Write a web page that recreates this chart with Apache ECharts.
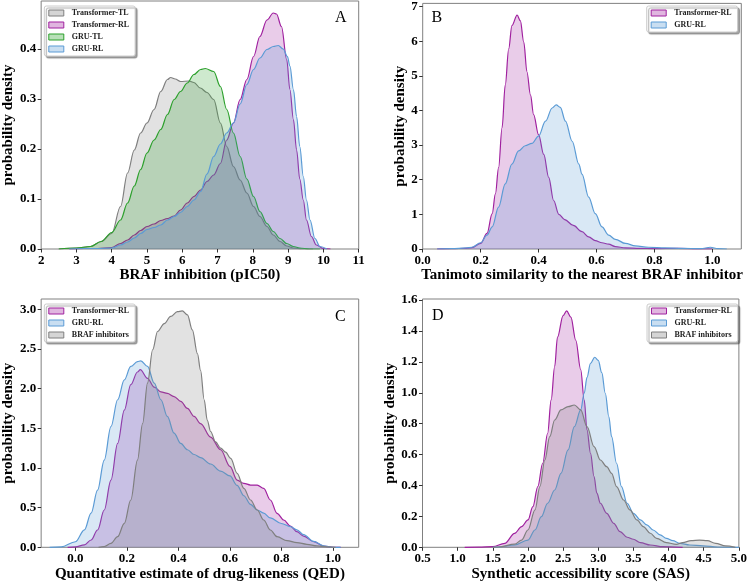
<!DOCTYPE html>
<html>
<head>
<meta charset="utf-8">
<script src="https://cdn.jsdelivr.net/npm/echarts@6/dist/echarts.min.js"></script>
<style>
html,body{margin:0;padding:0;background:#fff;}
#chart{width:750px;height:583px;}
</style>
</head>
<body>
<div id="chart"></div>
<script>
// ---------- DATA ----------
// Panel A: BRAF inhibition (pIC50)
const A_xTicks = [2,3,4,5,6,7,8,9,10,11];
const A_yTicks = [0,0.1,0.2,0.3,0.4];
const A_TransformerTL_x = [2.5,3.0,3.4,3.7,4.0,4.25,4.45,4.64,4.82,5.0,5.2,5.39,5.58,5.67,5.8,5.95,6.19,6.33,6.51,6.7,6.89,7.08,7.26,7.45,7.64,7.83,8.02,8.2,8.4,8.58,8.77,8.96,9.15,9.4,9.7];
const A_TransformerTL_y = [0,0.002,0.005,0.015,0.031,0.085,0.152,0.198,0.232,0.252,0.279,0.315,0.339,0.343,0.340,0.335,0.336,0.333,0.322,0.313,0.299,0.252,0.205,0.165,0.138,0.112,0.085,0.065,0.045,0.028,0.015,0.006,0.002,0,0];
const A_TransformerRL_x = [2.8,3.2,3.6,4.0,4.25,4.45,4.64,4.82,5.0,5.2,5.39,5.58,5.77,5.95,6.14,6.33,6.52,6.7,6.89,7.08,7.26,7.45,7.64,7.83,8.02,8.2,8.4,8.58,8.67,8.81,8.96,9.05,9.15,9.24,9.33,9.43,9.52,9.66,9.8,10.0,10.2];
const A_TransformerRL_y = [0,0.001,0.001,0.003,0.011,0.018,0.028,0.037,0.045,0.050,0.057,0.061,0.066,0.078,0.092,0.105,0.118,0.135,0.148,0.171,0.218,0.252,0.299,0.339,0.385,0.425,0.458,0.472,0.470,0.445,0.379,0.319,0.259,0.198,0.140,0.098,0.058,0.025,0.008,0.001,0];
const A_GRUTL_x = [2.5,3.0,3.4,3.7,4.0,4.25,4.45,4.64,4.82,5.0,5.2,5.39,5.58,5.77,5.95,6.14,6.33,6.52,6.65,6.89,7.08,7.26,7.45,7.64,7.83,8.02,8.2,8.4,8.58,8.77,8.96,9.15,9.33,9.6,9.9];
const A_GRUTL_y = [0,0.002,0.005,0.015,0.033,0.058,0.092,0.126,0.159,0.192,0.218,0.239,0.269,0.299,0.315,0.332,0.349,0.359,0.361,0.355,0.325,0.279,0.232,0.185,0.140,0.105,0.075,0.051,0.035,0.021,0.011,0.005,0.002,0,0];
const A_GRURL_x = [2.8,3.2,3.6,4.0,4.25,4.45,4.64,4.82,5.0,5.2,5.39,5.58,5.77,5.95,6.14,6.33,6.52,6.7,6.89,7.08,7.26,7.45,7.64,7.83,8.02,8.2,8.4,8.58,8.72,8.86,8.98,9.05,9.15,9.24,9.33,9.43,9.52,9.62,9.76,9.9,10.1];
const A_GRURL_y = [0,0.001,0.001,0.002,0.008,0.014,0.022,0.031,0.039,0.043,0.048,0.058,0.065,0.073,0.085,0.098,0.115,0.150,0.185,0.210,0.232,0.252,0.290,0.329,0.359,0.382,0.399,0.405,0.407,0.400,0.385,0.366,0.319,0.265,0.205,0.145,0.098,0.058,0.021,0.005,0];

// Panel B: Tanimoto similarity
const B_xTicks = [0,0.2,0.4,0.6,0.8,1.0];
const B_yTicks = [0,1,2,3,4,5,6,7];
const B_TransformerRL_x = [0.05,0.1,0.15,0.17,0.2,0.222,0.24,0.251,0.262,0.274,0.285,0.297,0.308,0.326,0.337,0.349,0.36,0.372,0.383,0.4,0.418,0.435,0.452,0.47,0.49,0.52,0.55,0.573,0.596,0.619,0.642,0.665,0.7,0.75,0.8,0.88,0.95,1.0];
const B_TransformerRL_y = [0,0.01,0.02,0.04,0.16,0.45,1.02,1.59,2.35,3.5,4.73,5.78,6.45,6.75,6.59,5.97,5.11,4.45,3.88,3.3,2.73,2.07,1.4,1.0,0.85,0.68,0.5,0.35,0.24,0.18,0.14,0.07,0.03,0.02,0.01,0.02,0.005,0];
const B_GRURL_x = [0.05,0.1,0.15,0.17,0.2,0.222,0.24,0.262,0.285,0.308,0.331,0.354,0.377,0.4,0.424,0.447,0.461,0.475,0.493,0.516,0.539,0.55,0.573,0.596,0.619,0.642,0.665,0.7,0.734,0.78,0.838,0.895,0.96,0.993,1.02,1.05];
const B_GRURL_y = [0,0.01,0.03,0.05,0.18,0.4,0.64,1.21,1.88,2.45,2.83,2.98,3.05,3.26,3.69,4.07,4.16,4.09,3.69,3.11,2.45,2.16,1.5,1.02,0.64,0.4,0.28,0.16,0.09,0.05,0.03,0.02,0.01,0.05,0.01,0];

// Panel C: QED
const C_xTicks = [0,0.2,0.4,0.6,0.8,1.0];
const C_yTicks = [0,0.5,1.0,1.5,2.0,2.5,3.0];
const C_TransformerRL_x = [-0.03,0.0,0.035,0.061,0.086,0.112,0.138,0.164,0.19,0.215,0.241,0.252,0.28,0.306,0.332,0.357,0.383,0.409,0.435,0.461,0.486,0.525,0.564,0.6,0.628,0.654,0.68,0.706,0.731,0.757,0.783,0.809,0.835,0.86,0.886,0.925,0.963,1.0,1.03];
const C_TransformerRL_y = [0,0.005,0.03,0.092,0.218,0.47,0.848,1.31,1.73,2.05,2.21,2.24,2.13,2.02,1.96,1.94,1.9,1.84,1.75,1.65,1.56,1.39,1.23,1.02,0.848,0.807,0.785,0.785,0.744,0.596,0.428,0.344,0.268,0.197,0.142,0.071,0.016,0,0];
const C_GRURL_x = [-0.1,-0.055,0.0,0.035,0.061,0.086,0.112,0.138,0.164,0.19,0.215,0.241,0.254,0.28,0.306,0.332,0.357,0.383,0.409,0.435,0.461,0.486,0.525,0.564,0.6,0.628,0.654,0.68,0.706,0.731,0.757,0.8,0.835,0.86,0.886,0.925,0.963,1.0,1.03];
const C_GRURL_y = [0,0.005,0.07,0.22,0.43,0.72,1.1,1.52,1.86,2.11,2.28,2.34,2.35,2.28,2.07,1.86,1.65,1.44,1.31,1.23,1.17,1.13,1.05,0.96,0.9,0.78,0.65,0.54,0.47,0.43,0.37,0.3,0.26,0.22,0.16,0.075,0.018,0,0];
const C_BRAF_x = [0.09,0.112,0.138,0.164,0.19,0.215,0.241,0.261,0.28,0.3,0.319,0.345,0.37,0.396,0.415,0.435,0.454,0.474,0.486,0.5,0.512,0.525,0.544,0.564,0.583,0.603,0.628,0.654,0.68,0.706,0.731,0.757,0.783,0.822,0.86,0.899,0.938,0.977,1.01];
const C_BRAF_y = [0,0.01,0.05,0.134,0.302,0.596,1.1,1.56,2.07,2.49,2.72,2.82,2.91,2.97,2.98,2.93,2.74,2.44,2.23,1.86,1.6,1.46,1.33,1.25,1.2,1.12,0.933,0.744,0.596,0.47,0.344,0.218,0.134,0.084,0.059,0.038,0.017,0.005,0];

// Panel D: SAS
const D_xTicks = [0.5,1.0,1.5,2.0,2.5,3.0,3.5,4.0,4.5,5.0];
const D_yTicks = [0,0.2,0.4,0.6,0.8,1.0,1.2,1.4,1.6];
const D_TransformerRL_x = [1.1,1.3,1.5,1.67,1.81,1.91,2.0,2.07,2.14,2.21,2.28,2.33,2.38,2.42,2.5,2.55,2.61,2.68,2.75,2.8,2.84,2.89,2.94,2.98,3.03,3.12,3.22,3.31,3.41,3.5,3.6,3.74,3.92,4.2];
const D_TransformerRL_y = [0,0.001,0.004,0.026,0.09,0.134,0.177,0.263,0.393,0.544,0.738,0.954,1.17,1.36,1.5,1.53,1.49,1.34,1.15,0.954,0.76,0.608,0.457,0.35,0.285,0.22,0.155,0.101,0.065,0.052,0.03,0.015,0.004,0];
const D_GRURL_x = [1.5,1.58,1.81,2.0,2.1,2.19,2.28,2.38,2.47,2.57,2.66,2.75,2.8,2.84,2.89,2.95,3.0,3.05,3.1,3.15,3.19,3.26,3.33,3.41,3.5,3.6,3.69,3.78,3.88,3.97,4.06,4.16,4.3,4.49,4.7,5.0];
const D_GRURL_y = [0,0.002,0.015,0.047,0.112,0.198,0.285,0.371,0.479,0.63,0.781,0.889,0.997,1.1,1.19,1.23,1.21,1.13,0.997,0.846,0.716,0.544,0.393,0.285,0.22,0.177,0.145,0.112,0.08,0.058,0.043,0.026,0.015,0.009,0.002,0];
const D_BRAF_x = [1.5,1.58,1.81,1.91,2.0,2.1,2.17,2.24,2.31,2.38,2.47,2.57,2.66,2.75,2.84,2.94,3.03,3.12,3.19,3.26,3.36,3.45,3.55,3.64,3.74,3.83,3.97,4.11,4.2,4.32,4.44,4.55,4.67,4.81,4.95];
const D_BRAF_y = [0,0.002,0.02,0.047,0.112,0.242,0.393,0.565,0.716,0.824,0.889,0.91,0.921,0.889,0.781,0.652,0.565,0.522,0.479,0.393,0.306,0.242,0.177,0.134,0.091,0.058,0.03,0.019,0.03,0.043,0.047,0.043,0.026,0.009,0];

// ---------- STYLE ----------
const FONT = "'Liberation Serif','Times New Roman',serif";
const PAL = {
  'Transformer-TL': {edge:'#7f7f7f', fill:'rgba(128,128,128,0.33)'},
  'Transformer-RL': {edge:'#a0219f', fill:'rgba(160,33,159,0.33)'},
  'GRU-TL':         {edge:'#2ca02c', fill:'rgba(44,160,44,0.33)'},
  'GRU-RL':         {edge:'#5b9bd5', fill:'rgba(91,155,213,0.33)'},
  'BRAF inhibitors':{edge:'#7f7f7f', fill:'rgba(128,128,128,0.33)'}
};

function pairs(xs, ys){ return xs.map((x,i)=>[x, ys[i]]); }
function ser(name, xs, ys, idx, z){
  const p = PAL[name];
  return {
    type:'line', name, xAxisIndex:idx, yAxisIndex:idx, data:pairs(xs,ys),
    smooth:0.35, smoothMonotone:'x', showSymbol:false, symbol:'none',
    lineStyle:{color:p.edge, width:1.2}, itemStyle:{color:p.edge},
    areaStyle:{color:p.fill, origin:'start'}, z:z, silent:true
  };
}

const grids = [
  {left:40, top:1, width:318.7, height:248},
  {left:422.7, top:1, width:318.6, height:248},
  {left:40, top:299, width:318.7, height:248.3},
  {left:422.5, top:299, width:318.5, height:248.3}
].map(g => Object.assign(g, {show:true, borderColor:'#808080', borderWidth:1, backgroundColor:'transparent'}));

const tickLbl = {fontSize:13, fontWeight:'bold', fontFamily:FONT, color:'#000'};
const nameStyle = {fontSize:15, fontWeight:'bold', fontFamily:FONT, color:'#000'};

function xAx(idx, min, max, ticks, dec, name){
  return {type:'value', gridIndex:idx, min, max,
    axisLine:{show:false, onZero:false}, splitLine:{show:false},
    axisTick:{show:true, length:3.5, lineStyle:{color:'#333'}, customValues:ticks},
    axisLabel:Object.assign({customValues:ticks, margin:5, formatter:v=>Number(v).toFixed(dec)}, tickLbl),
    name, nameLocation:'middle', nameGap:18, nameTextStyle:nameStyle};
}
function yAx(idx, min, max, ticks, dec, gap){
  return {type:'value', gridIndex:idx, min, max,
    axisLine:{show:false, onZero:false}, splitLine:{show:false},
    axisTick:{show:true, length:3.5, lineStyle:{color:'#333'}, customValues:ticks},
    axisLabel:Object.assign({customValues:ticks, margin:5, formatter:v=>Number(v).toFixed(dec)}, tickLbl),
    name:'probability density', nameLocation:'middle', nameGap:gap, nameTextStyle:nameStyle};
}

function legend(names, left, top){
  return {
    orient:'vertical', left, top, icon:'rect', itemWidth:15, itemHeight:6, itemGap:4,
    padding:[3,6,3,4], backgroundColor:'#fff', borderColor:'#cccccc', borderWidth:1, borderRadius:2,
    shadowColor:'rgba(0,0,0,0.35)', shadowOffsetX:2, shadowOffsetY:2, shadowBlur:1,
    selectedMode:false,
    textStyle:{fontSize:8, fontWeight:'bold', fontFamily:FONT, color:'#222', padding:[0,0,0,3]},
    data: names.map(n => ({name:n, itemStyle:{color:PAL[n].fill, borderColor:PAL[n].edge, borderWidth:1}}))
  };
}

const letter = (t, left, top) => ({type:'text', left, top, z:100,
  style:{text:t, fontSize:16, fontFamily:FONT, fill:'#000'}});

const option = {
  animation:false,
  backgroundColor:'#fff',
  grid: grids,
  xAxis:[
    xAx(0, 2, 11, A_xTicks, 0, 'BRAF inhibition (pIC50)'),
    xAx(1, 0, 1.1, B_xTicks, 1, 'Tanimoto similarity to the nearest BRAF inhibitor'),
    xAx(2, -0.133, 1.1, C_xTicks, 1, 'Quantitative estimate of drug-likeness (QED)'),
    xAx(3, 0.5, 5.0, D_xTicks, 1, 'Synthetic accessibility score (SAS)')
  ],
  yAxis:[
    yAx(0, 0, 0.496, A_yTicks, 1, 21),
    yAx(1, 0, 7.09, B_yTicks, 0, 12),
    yAx(2, 0, 3.13, C_yTicks, 1, 22),
    yAx(3, 0, 1.607, D_yTicks, 1, 25)
  ],
  legend:[
    legend(['Transformer-TL','Transformer-RL','GRU-TL','GRU-RL'], 44.3, 6),
    legend(['Transformer-RL','GRU-RL'], 646.7, 6),
    legend(['Transformer-RL','GRU-RL','BRAF inhibitors'], 44.3, 304),
    legend(['Transformer-RL','GRU-RL','BRAF inhibitors'], 647, 304)
  ],
  graphic:[
    letter('A', 335, 10), letter('B', 431.5, 9.5), letter('C', 335, 308.5), letter('D', 432, 308)
  ],
  series:[
    ser('Transformer-TL', A_TransformerTL_x, A_TransformerTL_y, 0, 2),
    ser('Transformer-RL', A_TransformerRL_x, A_TransformerRL_y, 0, 3),
    ser('GRU-TL', A_GRUTL_x, A_GRUTL_y, 0, 4),
    ser('GRU-RL', A_GRURL_x, A_GRURL_y, 0, 5),
    ser('Transformer-RL', B_TransformerRL_x, B_TransformerRL_y, 1, 3),
    ser('GRU-RL', B_GRURL_x, B_GRURL_y, 1, 4),
    ser('Transformer-RL', C_TransformerRL_x, C_TransformerRL_y, 2, 3),
    ser('GRU-RL', C_GRURL_x, C_GRURL_y, 2, 4),
    ser('BRAF inhibitors', C_BRAF_x, C_BRAF_y, 2, 5),
    ser('Transformer-RL', D_TransformerRL_x, D_TransformerRL_y, 3, 3),
    ser('GRU-RL', D_GRURL_x, D_GRURL_y, 3, 4),
    ser('BRAF inhibitors', D_BRAF_x, D_BRAF_y, 3, 5)
  ]
};

const chart = echarts.init(document.getElementById('chart'), null, {renderer:'canvas', width:750, height:583});
chart.setOption(option);
</script>
</body>
</html>
